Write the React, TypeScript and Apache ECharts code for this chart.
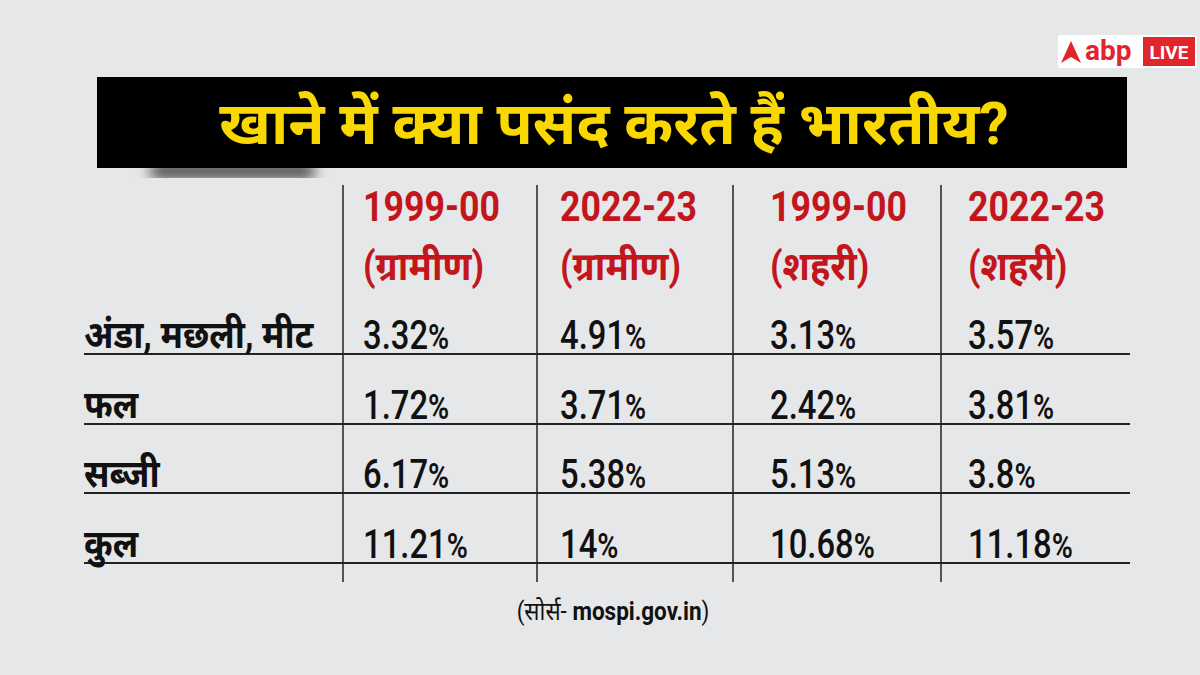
import React, { useEffect, useRef } from "react";
import * as echarts from "echarts";

const titleText = "खाने में क्या पसंद करते हैं भारतीय?";
const columnYears = ["1999-00", "2022-23", "1999-00", "2022-23"];
const columnAreas = ["(ग्रामीण)", "(ग्रामीण)", "(शहरी)", "(शहरी)"];
const rowLabels = ["अंडा, मछली, मीट", "फल", "सब्जी", "कुल"];
const rural1999 = [3.32, 1.72, 6.17, 11.21];
const rural2022 = [4.91, 3.71, 5.38, 14];
const urban1999 = [3.13, 2.42, 5.13, 10.68];
const urban2022 = [3.57, 3.81, 3.8, 11.18];
const sourceLabel = "(सोर्स- ";
const sourceSite = "mospi.gov.in";

const columnsData = [rural1999, rural2022, urban1999, urban2022];

const RED = "#c3161c";
const DARK = "#111111";
const FONT = "'Roboto', 'Noto Sans', 'DejaVu Sans', sans-serif";

export default function App() {
  const ref = useRef<HTMLDivElement>(null);
  useEffect(() => {
    if (!ref.current) return;
    const chart = echarts.init(ref.current, null, { renderer: "svg" });

    const colX = [343, 537, 733, 941];
    const textX = [363, 560, 770, 968];
    const rowLineY = [354, 424, 493, 563];
    const elements: any[] = [];

    // title shadow (hidden rect casting a soft shadow below the band)
    elements.push({
      type: "rect",
      shape: { x: 150, y: 150, width: 165, height: 14, r: 6 },
      style: { fill: "rgba(30,30,30,0.9)", shadowBlur: 14, shadowColor: "rgba(0,0,0,0.85)", shadowOffsetY: 14 },
    });
    // title band
    elements.push({
      type: "rect",
      shape: { x: 97, y: 77, width: 1030, height: 91 },
      style: { fill: "#000000" },
    });
    elements.push({
      type: "text",
      x: 614,
      y: 123,
      style: {
        text: titleText,
        fill: "#f8d800",
        font: `bold 59px ${FONT}`,
        align: "center",
        verticalAlign: "middle",
      },
    });

    // logo
    elements.push({
      type: "rect",
      shape: { x: 1058, y: 35, width: 139, height: 33, r: 2 },
      style: { fill: "#ffffff" },
    });
    elements.push({
      type: "polygon",
      shape: { points: [[1071, 41], [1081, 63], [1071, 57], [1061, 63]] },
      style: { fill: "#e2242b" },
    });
    elements.push({
      type: "text",
      x: 1085,
      y: 50,
      style: { text: "abp", fill: "#e2242b", font: `bold 28px ${FONT}`, align: "left", verticalAlign: "middle" },
    });
    elements.push({
      type: "rect",
      shape: { x: 1143, y: 37, width: 52, height: 29 },
      style: { fill: "#e2242b" },
    });
    elements.push({
      type: "text",
      x: 1169,
      y: 52,
      style: { text: "LIVE", fill: "#ffffff", font: `bold 19px ${FONT}`, align: "center", verticalAlign: "middle" },
    });

    // vertical lines
    colX.forEach((x) => {
      elements.push({
        type: "line",
        shape: { x1: x, y1: 185, x2: x, y2: 582 },
        style: { stroke: "#222", lineWidth: 1.5 },
      });
    });
    // horizontal lines
    rowLineY.forEach((y) => {
      elements.push({
        type: "line",
        shape: { x1: 84, y1: y, x2: 1130, y2: y },
        style: { stroke: "#222", lineWidth: 2 },
      });
    });

    // headers
    columnYears.forEach((yr, i) => {
      elements.push({
        type: "text",
        x: textX[i],
        y: 207,
        scaleX: 0.85,
        style: { text: yr, fill: RED, font: `bold 42px ${FONT}`, align: "left", verticalAlign: "middle" },
      });
      elements.push({
        type: "text",
        x: textX[i],
        y: 266,
        scaleX: 0.9,
        style: { text: columnAreas[i], fill: RED, font: `bold 40px ${FONT}`, align: "left", verticalAlign: "middle" },
      });
    });

    // row labels and values
    rowLabels.forEach((lab, r) => {
      const cy = rowLineY[r] - 19;
      elements.push({
        type: "text",
        x: 84,
        y: cy,
        scaleX: 0.91,
        style: { text: lab, fill: DARK, font: `bold 38px ${FONT}`, align: "left", verticalAlign: "middle" },
      });
      columnsData.forEach((col, c) => {
        elements.push({
          type: "text",
          x: textX[c],
          y: cy,
          scaleX: 0.82,
          style: {
            text: `{n|${String(col[r])}}{p|%}`,
            align: "left",
            verticalAlign: "middle",
            rich: {
              n: { fill: DARK, fontSize: 40, fontWeight: 500, fontFamily: FONT },
              p: { fill: DARK, fontSize: 35, fontWeight: 600, fontFamily: FONT, padding: [3, 0, 0, 0] },
            },
          },
        });
      });
    });

    // source
    elements.push({
      type: "text",
      x: 613,
      y: 612,
      scaleX: 0.9,
      style: {
        text: `{a|${sourceLabel}}{b|${sourceSite}}{a|)}`,
        align: "center",
        verticalAlign: "middle",
        rich: {
          a: { fill: DARK, fontSize: 25, fontFamily: FONT },
          b: { fill: DARK, fontSize: 25, fontWeight: "bold", fontFamily: FONT },
        },
      },
    });

    chart.setOption({
      animation: false,
      backgroundColor: "#e6e7e9",
      graphic: { elements },
    });
    return () => chart.dispose();
  }, []);
  return (
    <div
      ref={ref}
      style={{ position: "fixed", left: 0, top: 0, width: 1200, height: 675 }}
    />
  );
}
